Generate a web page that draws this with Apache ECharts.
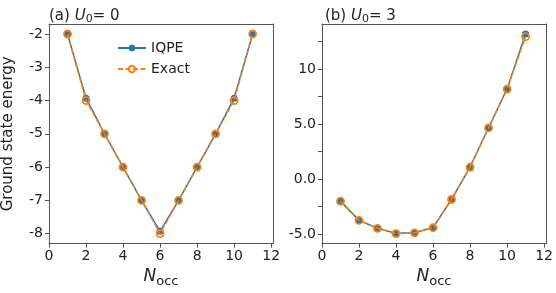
<!DOCTYPE html>
<html><head><meta charset="utf-8">
<script src="https://cdn.jsdelivr.net/npm/echarts@6/dist/echarts.min.js"></script>
<style>html,body{margin:0;padding:0;background:#fff}#c{width:556px;height:293px}</style>
</head><body><div id="c"></div>
<script>
// ---- data ----
const nOcc = [1,2,3,4,5,6,7,8,9,10,11];
const iqpeA  = [-2.0,-3.93,-5.0,-6.0,-7.0,-7.93,-7.0,-6.0,-5.0,-3.93,-2.0];
const exactA = [-2.0,-4.0,-5.0,-6.0,-7.0,-8.0,-7.0,-6.0,-5.0,-4.0,-2.0];
const iqpeB  = [-2.0,-3.75,-4.47,-4.93,-4.88,-4.4,-1.83,1.1,4.67,8.2,13.2];
const exactB = [-2.0,-3.75,-4.47,-4.95,-4.88,-4.42,-1.85,1.08,4.65,8.18,12.95];
const xTicks = [0,2,4,6,8,10,12];
const yTicksA = [-8,-7,-6,-5,-4,-3,-2];
const yTicksB = [-5,-2.5,0,2.5,5,7.5,10,12.5];
const yLabelsB = {'-5':'-5.0','0':'0.0','5':'5.0','10':'10'};
const seriesNames = ['IQPE','Exact'];
const titles = ['(a) ','(b) '];
const uValues = ['0','3'];

const BLUE='#1f77b4', ORANGE='#ff7f0e', AX='#555', TXT='#222';
const FONT='DejaVu Sans';
const chart = echarts.init(document.getElementById('c'), null, {renderer:'canvas'});

function xAxis(idx){
  return {type:'value', gridIndex:idx, min:0, max:12.1,
    name:'{i|N}{s|occ}', nameLocation:'middle', nameGap:22,
    nameTextStyle:{rich:{i:{fontFamily:FONT,fontStyle:'italic',fontSize:17,color:TXT},
                         s:{fontFamily:FONT,fontSize:13,color:TXT,padding:[9,0,0,0]}}},
    axisLine:{onZero:false,lineStyle:{color:AX,width:1}},
    axisTick:{customValues:xTicks,length:4,lineStyle:{color:AX}},
    axisLabel:{customValues:xTicks,fontFamily:FONT,fontSize:14,color:TXT,margin:6},
    splitLine:{show:false}};
}
function xTop(idx){
  return {type:'value', gridIndex:idx, position:'top', min:0, max:12.1,
    axisLine:{show:true,onZero:false,lineStyle:{color:AX}}, axisTick:{show:false}, axisLabel:{show:false}, splitLine:{show:false}};
}
function yRight(idx,mn,mx){
  return {type:'value',gridIndex:idx,position:'right',min:mn,max:mx,
    axisLine:{show:true,onZero:false,lineStyle:{color:AX}},axisTick:{show:false},axisLabel:{show:false},splitLine:{show:false}};
}
const option = {
  animation:false,
  textStyle:{fontFamily:FONT},
  grid:[{left:48,right:283,top:24,bottom:47},{left:322,right:8,top:24,bottom:47}],
  title:[0,1].map(i=>({
    text:'{n|'+titles[i]+'}{u|U}{s|0}{n|= '+uValues[i]+'}',
    left: i===0?44:320, top:2,
    textStyle:{fontWeight:'normal',rich:{n:{fontFamily:FONT,fontSize:15,fontWeight:'normal',color:TXT},
      u:{fontFamily:FONT,fontSize:15,fontStyle:'italic',fontWeight:'normal',color:TXT},
      s:{fontFamily:FONT,fontSize:11,fontWeight:'normal',color:TXT,padding:[7,0,0,0]}}}
  })),
  legend:{left:112,top:36,orient:'vertical',itemWidth:28,itemHeight:8,itemGap:7,
    textStyle:{fontFamily:FONT,fontSize:14,color:TXT},data:seriesNames},
  xAxis:[xAxis(0),xAxis(1),xTop(0),xTop(1)],
  yAxis:[
    {type:'value',gridIndex:0,min:-8.3,max:-1.7,
     name:'Ground state energy',nameLocation:'middle',nameGap:33,
     nameTextStyle:{fontFamily:FONT,fontSize:15,color:TXT},
     axisLine:{show:true,onZero:false,lineStyle:{color:AX}},
     axisTick:{customValues:yTicksA,length:4,lineStyle:{color:AX}},
     axisLabel:{customValues:yTicksA,fontFamily:FONT,fontSize:14,color:TXT,margin:6},
     splitLine:{show:false}},
    {type:'value',gridIndex:1,min:-5.86,max:14.1,
     axisLine:{show:true,onZero:false,lineStyle:{color:AX}},
     axisTick:{customValues:yTicksB,length:4,lineStyle:{color:AX}},
     axisLabel:{customValues:yTicksB,fontFamily:FONT,fontSize:14,color:TXT,margin:6,
       formatter:v=>yLabelsB[String(v)]||''},
     splitLine:{show:false}},
    yRight(0,-8.3,-1.7),
    yRight(1,-5.86,14.1)
  ],
  series:[]
};
const sets=[[iqpeA,exactA],[iqpeB,exactB]];
[0,1].forEach(g=>{
  option.series.push({name:seriesNames[0],type:'line',xAxisIndex:g,yAxisIndex:g,
    data:nOcc.map((x,k)=>[x,sets[g][0][k]]),symbol:'circle',symbolSize:7,
    lineStyle:{color:BLUE,width:1.5},itemStyle:{color:BLUE},z:2});
  option.series.push({name:seriesNames[1],type:'line',xAxisIndex:g,yAxisIndex:g,
    data:nOcc.map((x,k)=>[x,sets[g][1][k]]),symbol:'circle',symbolSize:7,
    lineStyle:{color:ORANGE,width:1.5,type:[5,2.5]},
    itemStyle:{color:'rgba(255,255,255,0)',borderColor:ORANGE,borderWidth:1.8},z:3});
});
chart.setOption(option);
</script></body></html>
